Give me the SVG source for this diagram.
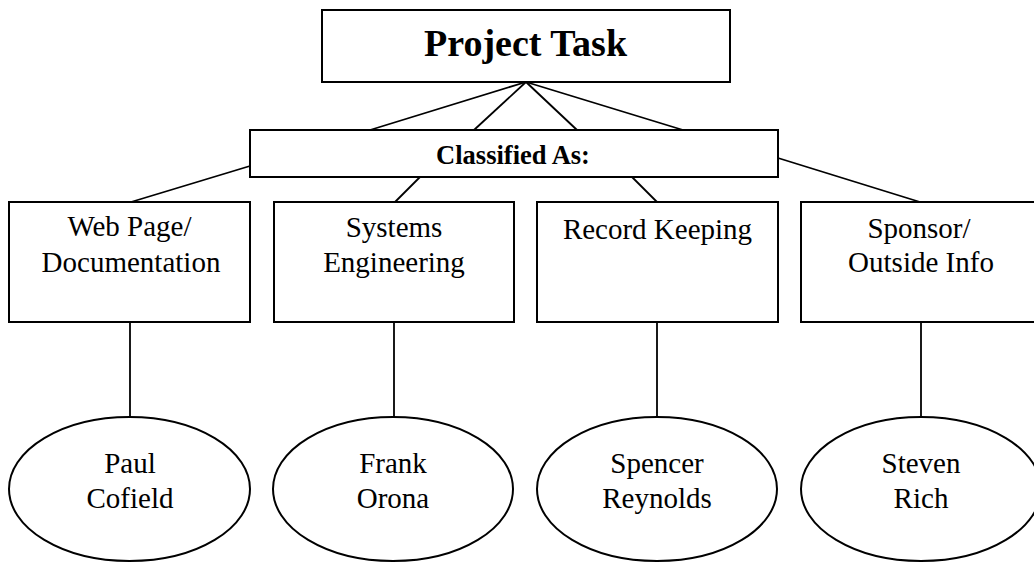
<svg xmlns="http://www.w3.org/2000/svg" width="1034" height="562" viewBox="0 0 1034 562">
<style>
.box{fill:#fff;stroke:#000;stroke-width:2}
.ln{stroke:#000;stroke-width:1.8;fill:none}
.t{font-family:"Liberation Serif","Times New Roman",serif;font-size:29px;text-anchor:middle;fill:#000}
.b{font-weight:bold}
</style>
<rect width="1034" height="562" fill="#fff"/>
<g id="connectors">
<line class="ln" x1="526" y1="82" x2="370" y2="130"/>
<line class="ln" x1="526" y1="82" x2="474" y2="130"/>
<line class="ln" x1="526" y1="82" x2="577" y2="130"/>
<line class="ln" x1="526" y1="82" x2="683" y2="130"/>
<line class="ln" x1="250" y1="166" x2="131" y2="202"/>
<line class="ln" x1="420" y1="177" x2="395" y2="202"/>
<line class="ln" x1="632" y1="177" x2="657" y2="202"/>
<line class="ln" x1="778" y1="158" x2="920" y2="202"/>
<line class="ln" x1="130" y1="322" x2="130" y2="417"/>
<line class="ln" x1="394" y1="322" x2="394" y2="417"/>
<line class="ln" x1="657" y1="322" x2="657" y2="417"/>
<line class="ln" x1="921" y1="322" x2="921" y2="417"/>
</g>
<g id="project-task">
<rect class="box" x="322" y="10" width="408" height="72"/>
<text class="t b" x="525.5" y="56" style="font-size:38px">Project Task</text>
</g>
<g id="classified-as">
<rect class="box" x="250" y="130" width="528" height="47"/>
<text class="t b" x="513" y="164" style="font-size:26.5px">Classified As:</text>
</g>
<g id="web-page">
<rect class="box" x="9" y="202" width="241" height="120"/>
<text class="t" x="129.5" y="236">Web Page/</text>
<text class="t" x="131" y="272">Documentation</text>
</g>
<g id="systems-engineering">
<rect class="box" x="274" y="202" width="240" height="120"/>
<text class="t" x="394" y="237">Systems</text>
<text class="t" x="394" y="272">Engineering</text>
</g>
<g id="record-keeping">
<rect class="box" x="537" y="202" width="241" height="120"/>
<text class="t" x="657.5" y="239">Record Keeping</text>
</g>
<g id="sponsor">
<rect class="box" x="801" y="202" width="240" height="120"/>
<text class="t" x="919" y="238">Sponsor/</text>
<text class="t" x="921" y="272">Outside Info</text>
</g>
<g id="paul-cofield">
<ellipse class="box" cx="129.5" cy="489" rx="120.5" ry="72"/>
<text class="t" x="130" y="473">Paul</text>
<text class="t" x="130" y="508">Cofield</text>
</g>
<g id="frank-orona">
<ellipse class="box" cx="393" cy="489" rx="120" ry="72"/>
<text class="t" x="393" y="473">Frank</text>
<text class="t" x="393" y="508">Orona</text>
</g>
<g id="spencer-reynolds">
<ellipse class="box" cx="657" cy="489" rx="120" ry="72"/>
<text class="t" x="657" y="473">Spencer</text>
<text class="t" x="657" y="508">Reynolds</text>
</g>
<g id="steven-rich">
<ellipse class="box" cx="921" cy="489" rx="120" ry="72"/>
<text class="t" x="921" y="473">Steven</text>
<text class="t" x="921" y="508">Rich</text>
</g>
</svg>
